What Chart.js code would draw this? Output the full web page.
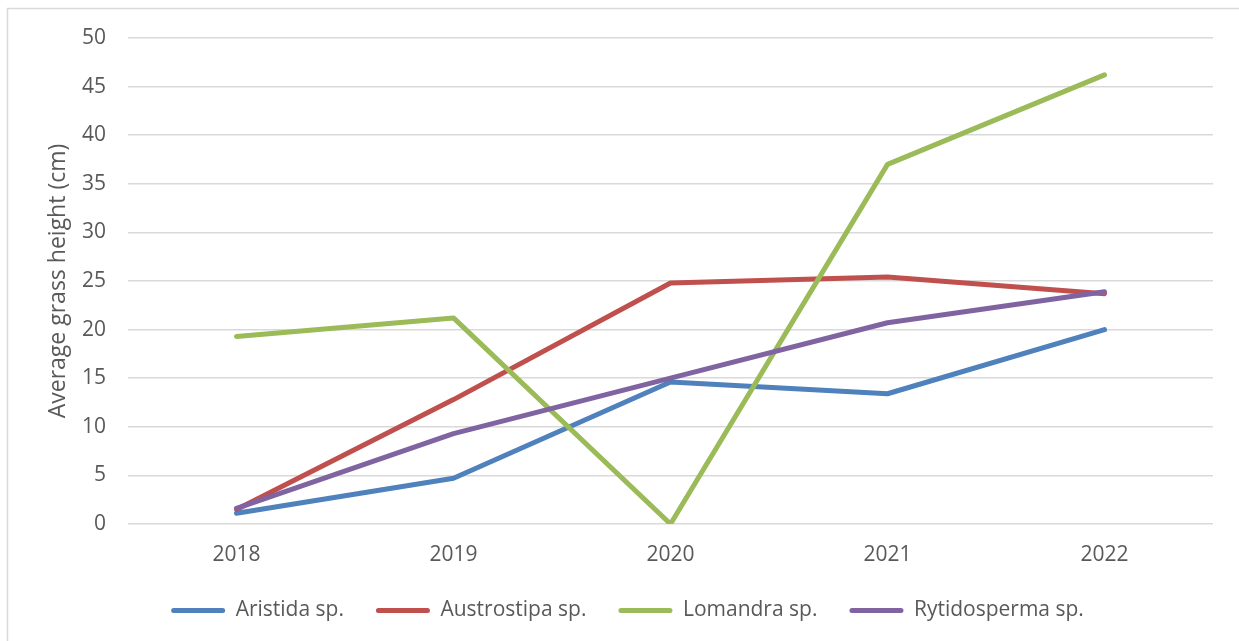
<!DOCTYPE html>
<html>
<head>
<meta charset="utf-8">
<script src="https://cdn.jsdelivr.net/npm/chart.js@4.4.1/dist/chart.umd.min.js"></script>
<style>
  html, body { margin: 0; padding: 0; background: #ffffff; }
  #wrap { width: 1239px; height: 641px; position: relative; }
</style>
</head>
<body>
<div id="wrap"><canvas id="chart" width="1239" height="641"></canvas></div>
<script>
// Survey years
const years = ['2018', '2019', '2020', '2021', '2022'];

// Average grass height (cm) per genus
const aristida     = [1.1, 4.7, 14.6, 13.4, 20.0];
const austrostipa  = [1.5, 12.8, 24.8, 25.4, 23.7];
const lomandra     = [19.3, 21.2, 0.0, 37.0, 46.2];
const rytidosperma = [1.6, 9.3, 15.0, 20.7, 23.9];

// Y axis ticks
const yTicks = [0, 5, 10, 15, 20, 25, 30, 35, 40, 45, 50];

const FONT = "'Open Sans', 'Noto Sans', sans-serif";
const TEXT = '#595959';
const GRID = '#d9d9d9';

// Light frame around the chart object (left and top edges)
const framePlugin = {
  id: 'frame',
  beforeDraw(chart) {
    const ctx = chart.ctx;
    ctx.save();
    ctx.strokeStyle = '#d9d9d9';
    ctx.lineWidth = 1.5;
    ctx.beginPath();
    ctx.moveTo(7.5, 641);
    ctx.lineTo(7.5, 8.5);
    ctx.lineTo(1239, 8.5);
    ctx.stroke();
    ctx.restore();
  }
};

// Nudge the legend row to the right so it sits centred under the plot
const legendShift = {
  id: 'legendShift',
  afterLayout(chart) {
    if (chart.legend) {
      chart.legend.left += 21;
      chart.legend.right += 21;
    }
  }
};

function series(label, data, color, order) {
  return {
    label, data,
    borderColor: color,
    backgroundColor: color,
    borderWidth: 5,
    borderCapStyle: 'round',
    borderJoinStyle: 'round',
    pointRadius: 0,
    pointHoverRadius: 0,
    tension: 0,
    fill: false,
    order
  };
}

new Chart(document.getElementById('chart'), {
  type: 'line',
  data: {
    labels: years,
    datasets: [
      series('Aristida sp.', aristida, '#4f81bd', 4),
      series('Austrostipa sp.', austrostipa, '#c0504d', 3),
      series('Lomandra sp.', lomandra, '#9bbb59', 2),
      series('Rytidosperma sp.', rytidosperma, '#8064a2', 1)
    ]
  },
  options: {
    responsive: false,
    animation: false,
    layout: { padding: { left: 0, right: 26, top: 38, bottom: 10 } },
    plugins: {
      tooltip: { enabled: false },
      legend: {
        position: 'bottom',
        labels: {
          sort: (a, b) => a.datasetIndex - b.datasetIndex,
          boxWidth: 54,
          boxHeight: 5,
          useBorderRadius: true,
          borderRadius: 2.5,
          padding: 32,
          color: TEXT,
          font: { family: FONT, size: 21 },
          generateLabels(chart) {
            return chart.data.datasets.map((ds, i) => ({
              text: ds.label,
              fillStyle: ds.borderColor,
              strokeStyle: ds.borderColor,
              lineWidth: 0,
              hidden: false,
              datasetIndex: i,
              borderRadius: 2.5,
              fontColor: TEXT
            }));
          }
        }
      }
    },
    scales: {
      x: {
        offset: true,
        grid: { display: false, drawTicks: false },
        border: { display: false },
        ticks: { color: TEXT, font: { family: FONT, size: 21 }, padding: 18, maxRotation: 0 },
        afterFit(s) { s.height = 44; }
      },
      y: {
        min: 0,
        max: 50,
        afterBuildTicks(s) { s.ticks = yTicks.map(v => ({ value: v })); },
        grid: { color: GRID, lineWidth: 1.5, drawTicks: false },
        border: { display: false },
        ticks: { color: TEXT, font: { family: FONT, size: 21 }, padding: 22 },
        title: {
          display: true,
          text: 'Average grass height (cm)',
          color: TEXT,
          font: { family: FONT, size: 23 },
          padding: { top: 45, bottom: 0 }
        },
        afterFit(s) { s.width = 128; }
      }
    }
  },
  plugins: [framePlugin, legendShift]
});
</script>
</body>
</html>
